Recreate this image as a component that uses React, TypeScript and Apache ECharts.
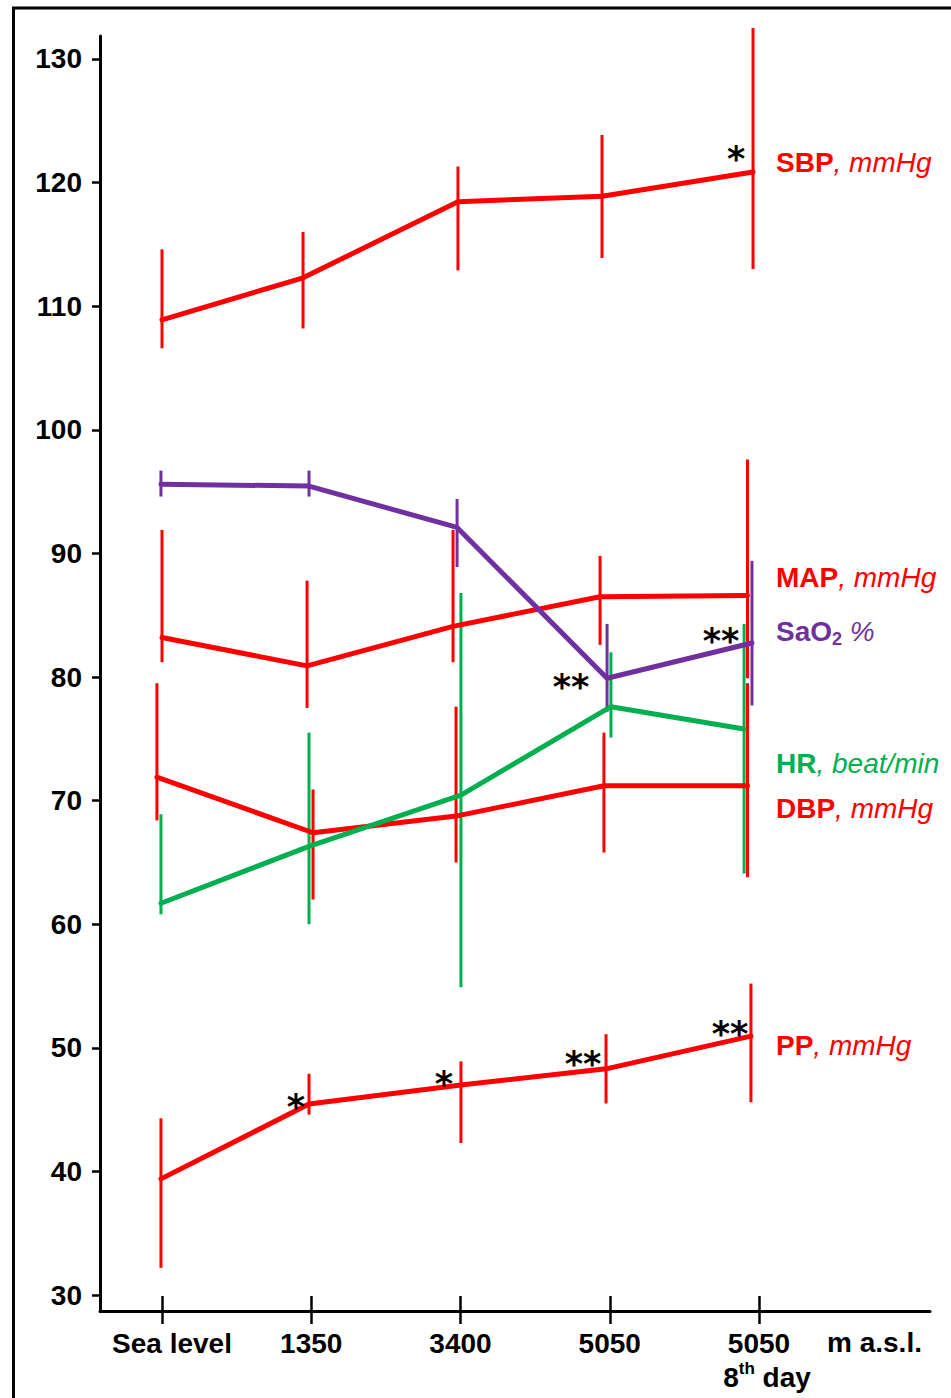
import React, { useEffect, useRef } from "react";
import * as echarts from "echarts";

// ---- categories / ticks ----
const categories = ["Sea level", "1350", "3400", "5050", "5050"];
const categoryTicks = [0, 1, 2, 3, 4];
const yTicks = [30, 40, 50, 60, 70, 80, 90, 100, 110, 120, 130];

// ---- series (x in category units, as drawn; mean, low and high of the bars) ----
const sbpX = [0, 0.945, 1.983, 2.948, 3.96];
const sbpMean = [108.9, 112.3, 118.45, 118.9, 120.86];
const sbpLow = [106.6, 108.2, 112.9, 113.9, 113.0];
const sbpHigh = [114.6, 116.0, 121.3, 123.85, 132.5];

const mapX = [0, 0.972, 1.95, 2.935, 3.923];
const mapMean = [83.2, 80.9, 84.1, 86.5, 86.6];
const mapLow = [81.2, 77.5, 81.2, 82.6, 79.9];
const mapHigh = [91.9, 87.8, 91.9, 89.8, 97.6];

const sao2X = [-0.007, 0.985, 1.977, 2.982, 3.953];
const sao2Mean = [95.6, 95.45, 92.1, 79.9, 82.75];
const sao2Low = [94.6, 94.6, 88.9, 77.2, 77.7];
const sao2High = [96.7, 96.7, 94.4, 84.3, 89.4];

const hrX = [-0.007, 0.985, 2.003, 3.008, 3.9];
const hrMean = [61.7, 66.3, 70.45, 77.6, 75.8];
const hrLow = [60.8, 60.0, 54.9, 75.1, 64.1];
const hrHigh = [68.9, 75.5, 86.8, 82.0, 84.3];

const dbpX = [-0.034, 1.012, 1.97, 2.961, 3.923];
const dbpMean = [71.9, 67.4, 68.75, 71.2, 71.2];
const dbpLow = [68.4, 62.0, 65.0, 65.8, 63.8];
const dbpHigh = [79.5, 70.9, 77.6, 75.5, 79.5];

const ppX = [-0.007, 0.985, 2.003, 2.975, 3.946];
const ppMean = [39.4, 45.45, 47.0, 48.3, 50.95];
const ppLow = [32.2, 44.6, 42.3, 45.5, 45.6];
const ppHigh = [44.3, 47.9, 48.9, 51.1, 55.2];

// ---- significance marks ----
const sbpStars = ["", "", "", "", "*"];
const sao2Stars = ["", "", "", "**", "**"];
const ppStars = ["", "*", "*", "**", "**"];

// ---- layout / style ----
const FONT = '"Liberation Sans", Arial, sans-serif';
const RED = "#FF0000";
const PURPLE = "#7030A0";
const GREEN = "#00B050";
const X_MIN = -0.4154;
const X_MAX = 5.1457;
const Y_MIN = 28.71;
const Y_MAX = 131.86;
const sbpStarShift = [[0, 0], [0, 0], [0, 0], [0, 0], [-17, -20]];
const sao2StarShift = [[0, 0], [0, 0], [0, 0], [-36, 2], [-31, -9]];
const ppStarShift = [[0, 0], [-13, -4], [-17, -8], [-23, -12], [-21, -9]];

function errorBars(xs: number[], lows: number[], highs: number[], color: string) {
  return {
    type: "custom",
    silent: true,
    z: 2,
    clip: false,
    data: xs.map((x, i) => [x, lows[i], highs[i]]),
    encode: { x: 0, y: [1, 2] },
    renderItem: (_p: any, api: any) => {
      const x = api.value(0);
      const a = api.coord([x, api.value(1)]);
      const b = api.coord([x, api.value(2)]);
      return {
        type: "line",
        shape: { x1: a[0], y1: a[1], x2: b[0], y2: b[1] },
        style: { stroke: color, lineWidth: 3 },
      };
    },
  };
}

function meanLine(xs: number[], ys: number[], color: string, z: number) {
  return {
    type: "line",
    silent: true,
    z,
    symbol: "none",
    showSymbol: false,
    data: xs.map((x, i) => [x, ys[i]]),
    lineStyle: { color, width: 5, cap: "round", join: "round" },
  };
}

const starItems: { x: number; y: number; t: string; dx: number; dy: number }[] = [];
function addStars(xs: number[], ys: number[], stars: string[], shift: number[][]) {
  stars.forEach((s, i) => {
    if (s) starItems.push({ x: xs[i], y: ys[i], t: s, dx: shift[i][0], dy: shift[i][1] });
  });
}
addStars(sbpX, sbpMean, sbpStars, sbpStarShift);
addStars(sao2X, sao2Mean, sao2Stars, sao2StarShift);
addStars(ppX, ppMean, ppStars, ppStarShift);

function richLabel(x: number, y: number, text: string, color: string) {
  return {
    type: "text",
    x,
    y,
    z: 10,
    style: {
      text,
      align: "left",
      verticalAlign: "middle",
      rich: {
        b: { fontSize: 28, fontWeight: "bold", fontFamily: FONT, fill: color, lineHeight: 34 },
        i: { fontSize: 28, fontStyle: "italic", fontFamily: FONT, fill: color, lineHeight: 34 },
        sub: {
          fontSize: 18,
          fontWeight: "bold",
          fontFamily: FONT,
          fill: color,
          lineHeight: 20,
          verticalAlign: "bottom",
        },
      },
    },
  };
}

export default function App() {
  const ref = useRef<HTMLDivElement>(null);
  useEffect(() => {
    if (!ref.current) return;
    const chart = echarts.init(ref.current, undefined, { renderer: "svg" });
    const labelRich = {
      a: { fontSize: 28, fontWeight: "bold", fontFamily: FONT, color: "#000", lineHeight: 34 },
      s: { fontSize: 28, fontWeight: "bold", fontFamily: FONT, color: "#000", lineHeight: 34, padding: [0, 0, 0, 20] },
      p: { fontSize: 28, fontWeight: "bold", fontFamily: FONT, color: "#000", lineHeight: 34, padding: [0, 0, 0, 16] },
      sup: { fontSize: 17, fontWeight: "bold", fontFamily: FONT, color: "#000", lineHeight: 20, verticalAlign: "top" },
    };
    const option: any = {
      animation: false,
      backgroundColor: "#fff",
      grid: { left: 100, right: 21, top: 36, bottom: 87, containLabel: false, outerBoundsMode: "none" },
      xAxis: [
        {
          type: "value",
          min: X_MIN,
          max: X_MAX,
          position: "bottom",
          axisLine: { show: true, onZero: false, lineStyle: { color: "#000", width: 3 } },
          axisTick: { show: true, customValues: categoryTicks, length: 13, lineStyle: { color: "#000", width: 2.5 } },
          axisLabel: {
            show: true,
            customValues: categoryTicks,
            margin: 15,
            rich: labelRich,
            formatter: (v: number) => {
              const i = Math.round(v);
              if (i === 0) return "{s|" + categories[0] + "}";
              if (i === 4) return "{a|" + categories[4] + "}\n{p|8}{sup|th}{a| day}";
              return "{a|" + categories[i] + "}";
            },
          },
          splitLine: { show: false },
        },
        {
          type: "value",
          min: X_MIN,
          max: X_MAX,
          position: "bottom",
          axisLine: { show: false, onZero: false },
          axisTick: { show: true, inside: true, customValues: categoryTicks, length: 15, lineStyle: { color: "#000", width: 2.5 } },
          axisLabel: { show: false },
          splitLine: { show: false },
        },
      ],
      yAxis: {
        type: "value",
        min: Y_MIN,
        max: Y_MAX,
        axisLine: { show: true, onZero: false, lineStyle: { color: "#000", width: 3 } },
        axisTick: { show: true, customValues: yTicks, length: 8, lineStyle: { color: "#000", width: 2.5 } },
        axisLabel: {
          show: true,
          customValues: yTicks,
          margin: 18,
          fontSize: 28,
          fontWeight: "bold",
          fontFamily: FONT,
          color: "#000",
        },
        splitLine: { show: false },
      },
      series: [
        errorBars(sbpX, sbpLow, sbpHigh, RED),
        errorBars(mapX, mapLow, mapHigh, RED),
        errorBars(dbpX, dbpLow, dbpHigh, RED),
        errorBars(ppX, ppLow, ppHigh, RED),
        errorBars(hrX, hrLow, hrHigh, GREEN),
        errorBars(sao2X, sao2Low, sao2High, PURPLE),
        meanLine(sbpX, sbpMean, RED, 3),
        meanLine(mapX, mapMean, RED, 3),
        meanLine(dbpX, dbpMean, RED, 3),
        meanLine(ppX, ppMean, RED, 3),
        meanLine(hrX, hrMean, GREEN, 4),
        meanLine(sao2X, sao2Mean, PURPLE, 5),
        {
          type: "custom",
          silent: true,
          z: 6,
          clip: false,
          data: starItems.map((s) => [s.x, s.y]),
          renderItem: (params: any, api: any) => {
            const s = starItems[params.dataIndex];
            const p = api.coord([api.value(0), api.value(1)]);
            return {
              type: "text",
              x: p[0] + s.dx,
              y: p[1] + s.dy + 7,
              style: {
                text: s.t,
                fill: "#000",
                fontSize: 35,
                fontWeight: "bold",
                fontFamily: '"DejaVu Sans", sans-serif',
                align: "center",
                verticalAlign: "middle",
              },
            };
          },
        },
      ],
      graphic: [
        {
          type: "rect",
          z: 10,
          shape: { x: 13.5, y: 8, width: 1200, height: 1600 },
          style: { fill: "none", stroke: "#000", lineWidth: 3 },
        },
        richLabel(776, 162, "{b|SBP}{i|, mmHg}", RED),
        richLabel(776, 577, "{b|MAP}{i|, mmHg}", RED),
        richLabel(776, 631, "{b|SaO}{sub|2}{i| %}", PURPLE),
        richLabel(776, 763, "{b|HR}{i|, beat/min}", GREEN),
        richLabel(776, 808, "{b|DBP}{i|, mmHg}", RED),
        richLabel(776, 1045, "{b|PP}{i|, mmHg}", RED),
        {
          type: "text",
          x: 827,
          y: 1342,
          z: 10,
          style: {
            text: "m a.s.l.",
            fill: "#000",
            fontSize: 28,
            fontWeight: "bold",
            fontFamily: FONT,
            align: "left",
            verticalAlign: "middle",
          },
        },
      ],
    };
    chart.setOption(option);
    return () => chart.dispose();
  }, []);
  return (
    <div
      ref={ref}
      style={{ position: "absolute", left: 0, top: 0, width: 951, height: 1398, background: "#fff" }}
    />
  );
}
